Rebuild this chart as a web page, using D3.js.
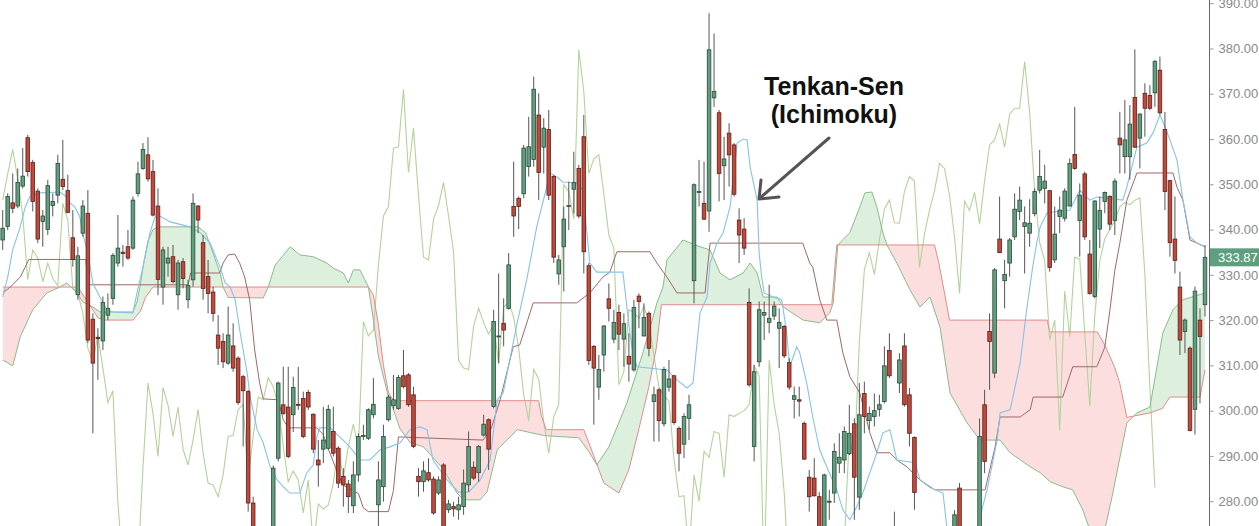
<!DOCTYPE html>
<html><head><meta charset="utf-8">
<script src="https://cdn.jsdelivr.net/npm/d3@7"></script>
<style>html,body{margin:0;padding:0;background:#fff;overflow:hidden}</style>
</head><body><svg id="c" width="1259" height="526"></svg>
<script>
// ---- candle data (bar index 0..240) ----
const open=[337.7,340.7,345.9,345.2,349.6,360.3,354.8,348.5,341.8,340.0,
345.3,347.6,351.1,348.6,338.2,325.6,339.2,343.6,320.2,316.2,
315.4,321.1,324.8,332.6,335.0,336.2,335.9,348.0,353.5,356.5,
352.8,345.2,327.3,332.6,334.0,325.6,332.9,324.5,328.9,345.2,
337.1,329.6,326.2,316.7,315.3,310.5,314.3,311.6,307.5,304.2,
279.6,265.0,250.0,258.0,266.0,289.5,301.3,300.8,299.1,301.4,
302.7,304.0,299.2,289.1,291.5,291.7,295.4,291.7,285.5,283.8,
279.0,285.8,294.3,293.9,299.1,279.2,283.2,298.0,301.1,300.5,
307.7,307.9,303.5,285.5,284.3,286.3,284.9,281.8,288.0,278.1,
278.8,278.1,278.8,283.6,287.5,286.3,294.6,298.0,300.9,316.3,
319.3,322.6,345.1,346.9,347.9,353.9,355.5,365.3,358.2,362.1,
351.7,330.2,336.2,345.1,348.9,353.5,360.5,332.0,314.2,305.2,
312.3,324.7,315.8,321.7,315.8,312.0,309.0,325.3,316.5,321.5,
302.0,304.6,297.1,305.2,307.7,296.1,292.6,298.3,328.7,348.2,
345.8,344.1,369.1,365.8,354.1,361.3,358.7,342.1,340.1,323.9,
292.1,310.8,321.1,319.5,320.9,318.2,318.6,310.6,302.5,302.4,
297.2,285.3,285.1,281.0,268.0,279.9,281.8,288.4,289.1,290.5,
297.1,280.9,303.8,297.8,298.7,300.3,302.0,313.3,272.0,306.1,
314.3,303.5,294.1,272.0,262.0,256.0,259.0,264.0,261.0,266.0,
268.0,282.9,268.0,262.0,266.0,272.0,301.3,317.5,308.3,337.9,
328.7,332.6,338.4,344.0,340.7,339.2,343.5,348.7,349.1,348.6,
333.3,342.9,342.5,345.2,356.6,342.0,352.3,334.6,325.2,340.1,
346.2,347.3,342.0,360.2,356.1,356.1,369.2,360.2,370.1,369.6,
370.2,375.2,362.1,350.8,337.9,327.3,317.5,313.8,300.3,320.0,
323.4];
const high=[344.3,348.0,352.4,353.5,358.0,360.9,355.4,349.1,344.3,351.0,
348.0,356.5,359.8,352.1,344.3,336.2,346.5,348.7,321.5,318.2,
325.2,325.9,334.8,343.2,336.6,339.9,347.3,355.0,359.1,360.4,
355.4,349.1,336.2,336.2,336.6,333.3,333.7,328.9,348.0,345.4,
338.8,333.3,327.4,321.1,317.1,323.0,319.3,312.0,307.9,304.6,
281.0,268.0,262.0,270.0,287.9,306.4,309.7,309.7,307.5,309.7,
304.2,304.6,299.4,293.5,300.8,301.3,300.9,292.1,287.3,284.7,
288.8,295.0,296.9,300.5,307.2,288.8,296.9,303.5,307.9,307.9,
313.4,308.3,305.3,287.3,288.8,289.5,285.5,285.5,288.4,280.3,
279.9,281.0,287.0,295.4,288.8,292.4,299.1,298.3,322.3,330.3,
324.8,334.8,355.0,347.3,358.7,364.9,373.8,370.1,364.6,366.4,
352.1,334.4,345.1,350.6,357.2,354.3,365.3,332.6,314.5,312.3,
318.9,328.1,322.3,323.4,321.5,317.1,324.5,325.9,323.7,321.9,
305.3,305.0,309.7,311.2,307.9,296.5,299.4,303.5,350.2,355.4,
355.0,387.8,383.3,366.4,360.5,363.5,359.1,344.7,342.5,327.0,
310.1,324.1,324.1,327.8,324.1,322.6,318.9,311.6,305.3,305.3,
297.6,286.9,289.5,282.0,286.1,282.5,292.8,295.0,296.5,301.3,
298.3,306.1,306.4,300.9,303.8,303.5,314.2,317.1,277.7,312.7,
317.1,305.0,294.3,274.0,266.0,262.0,268.0,270.0,268.0,272.0,
278.0,284.0,272.0,270.0,274.0,298.3,304.6,321.5,331.5,347.3,
333.3,338.1,348.0,349.5,345.1,346.7,349.1,357.6,354.3,348.7,
345.1,347.3,349.1,355.7,367.1,350.2,352.8,337.7,346.5,347.3,
348.4,347.6,351.3,366.0,368.6,367.5,379.8,365.7,372.3,371.9,
377.5,378.2,366.0,351.0,347.3,330.7,320.4,314.2,327.4,322.6,
336.6];
const low=[335.5,339.9,343.6,344.7,349.1,351.7,344.0,337.0,336.2,338.8,
342.9,345.8,348.7,343.6,331.8,324.5,338.4,314.9,295.0,306.8,
313.4,320.0,323.4,331.8,331.8,333.3,335.5,347.3,353.2,350.6,
342.9,325.5,323.4,329.6,328.1,322.3,327.0,322.6,327.4,339.2,
324.5,321.5,319.7,310.1,309.4,310.1,308.6,301.3,292.1,277.7,
262.0,244.0,247.0,255.0,263.0,288.8,299.1,289.5,295.3,300.2,
293.9,300.2,290.6,283.2,288.4,291.3,289.9,282.9,278.8,277.4,
277.4,284.3,293.5,293.5,298.3,273.0,279.9,297.6,300.2,300.2,
304.9,300.9,291.7,281.0,282.1,284.3,277.0,281.4,266.0,277.4,
276.6,275.9,277.0,282.1,284.7,284.3,294.3,286.9,300.5,310.5,
314.2,322.3,338.4,340.1,346.9,351.7,353.9,346.5,352.4,346.5,
332.6,327.8,326.3,339.9,343.6,342.5,330.3,310.1,296.9,302.4,
308.6,319.7,314.9,313.4,309.7,306.4,308.6,318.2,316.4,312.0,
293.2,293.2,296.5,304.2,296.9,286.6,289.5,293.5,323.7,345.1,
342.1,339.5,367.1,346.2,346.5,349.5,347.3,332.6,334.4,305.3,
288.8,309.7,315.6,317.1,320.0,309.4,311.6,304.6,298.3,298.7,
289.1,277.7,281.0,262.0,265.0,275.9,279.6,286.2,286.2,290.2,
275.9,278.1,295.0,295.8,296.5,298.7,301.6,307.2,255.0,303.9,
300.9,292.1,278.1,258.0,250.0,248.0,255.0,258.0,256.0,262.0,
266.0,266.0,258.0,256.0,262.0,270.0,286.2,304.6,307.2,334.8,
322.6,329.6,337.7,342.1,330.3,336.2,342.9,348.0,345.8,330.7,
332.6,339.2,341.8,345.1,353.2,334.0,337.7,325.6,324.8,335.9,
343.6,339.9,338.8,352.4,352.4,351.0,358.0,353.5,360.5,366.4,
367.1,365.3,344.3,334.0,330.3,312.3,312.7,295.4,294.7,301.6,
320.8];
const close=[340.3,347.3,344.7,350.4,351.8,352.8,346.2,337.9,343.0,349.7,
346.2,354.6,349.5,343.8,333.4,334.2,345.2,315.6,310.5,315.9,
323.9,322.6,334.3,335.9,334.7,333.7,346.5,352.3,357.7,351.2,
343.2,329.0,335.5,333.7,328.5,332.6,329.2,327.6,345.8,342.1,
327.0,325.9,321.5,313.8,310.8,316.7,309.4,301.8,304.4,279.6,
265.0,250.0,258.0,266.0,287.3,306.1,299.4,289.9,305.1,301.2,
294.3,300.8,291.5,288.0,293.5,300.3,290.6,284.0,283.6,281.0,
285.8,294.3,294.5,300.2,301.4,284.7,294.3,303.0,302.4,307.3,
305.3,301.3,292.1,284.3,286.7,284.7,277.4,284.7,270.0,279.4,
278.3,279.2,284.0,292.1,285.1,292.1,297.0,291.5,319.7,316.5,
317.8,332.2,343.0,345.1,358.0,358.3,371.0,352.6,362.4,347.6,
333.9,333.3,342.3,345.3,350.4,343.0,335.1,311.1,309.4,309.1,
318.7,322.6,319.5,316.9,319.2,310.3,322.8,324.1,320.6,313.8,
303.5,297.8,309.1,307.0,297.4,290.6,298.7,301.3,349.9,348.4,
342.3,379.7,370.5,352.4,355.6,356.5,347.8,338.8,335.9,305.7,
308.6,322.3,321.7,320.4,323.1,319.5,312.1,305.2,303.3,302.1,
289.3,281.0,281.2,268.0,285.8,280.0,291.0,289.7,295.4,295.0,
285.3,299.1,298.7,299.4,300.0,301.3,309.9,307.7,262.0,311.2,
301.3,295.0,281.9,262.0,256.0,259.0,264.0,261.0,266.0,268.0,
277.0,268.0,262.0,266.0,271.0,294.3,288.8,315.3,331.1,334.9,
330.1,337.7,344.5,346.5,341.5,341.4,348.4,351.7,350.7,331.6,
339.0,344.3,348.5,354.6,353.5,347.6,338.4,325.9,346.3,344.2,
348.2,341.2,350.7,358.7,359.8,363.3,358.2,365.5,366.8,366.8,
377.1,365.8,348.4,337.1,333.2,315.6,320.0,295.6,326.4,316.4,
333.87];
// closes of bars hidden behind the price scale (only visible through the lagging span)
const hiddenCloses=[333.5,317.0,301.0,321.0,333.0,338.0,340.0,342.0,345.0,346.0,345.5,346.5,347.0,330.0,305.0,283.0];
const chikouShift=26;

// ---- indicator lines: [bar index, price] ----
const tenkan=[[0,325.1],[1,329.5],[2,335.5],[3.5,340.6],[4.5,345.0],[5.4,347.2],[7.4,348.1],[11.4,348.3],[12.8,347.2],[13.4,345.9],[14.4,345.0],[15.4,342.8],[15.8,339.9],[17,334.8],[18,328.2],[19.4,325.1],[20.8,322.3],[22,321.8],[26,321.6],[26.8,326.0],[28,331.7],[29.4,339.3],[30.4,342.8],[31.4,343.0],[33.4,341.7],[37.4,340.6],[39.4,339.3],[41.4,337.0],[43.4,331.7],[44.4,328.2],[45.4,327.3],[46.4,324.5],[47.4,317.2],[48.8,308.3],[49.4,303.0],[50.8,295.8],[52,292.9],[53.4,287.6],[54.8,284.7],[56,283.2],[57.3,281.8],[59.3,281.8],[60.7,286.3],[62,288],[62.7,294.2],[63.3,296.2],[65.3,296.2],[67.3,294.2],[69.3,292.0],[71.3,289.1],[73.3,289.1],[75.3,291.3],[77.3,292.0],[79.3,292.9],[81.3,295.8],[83.3,296.4],[84.7,295.8],[85.9,289.1],[87.3,286.9],[88.7,284.7],[91,282],[93,282],[95.3,284.7],[97.3,289.1],[98.7,302.4],[99.9,303.9],[102.7,319.4],[104.6,328.9],[106.6,340.6],[108.6,349.4],[109.2,352.5],[110.6,351.6],[111.8,350.5],[114.6,350.3],[115.8,348.7],[117.2,332.6],[118.6,330.6],[123.8,330.6],[124.6,322.9],[125.2,317.2],[125.8,312.8],[126.6,309.7],[132.6,309.0],[134.6,306.8],[136.6,305.0],[137.8,306.1],[139.2,321.6],[140.6,325.1],[141.2,332.6],[142.6,337.0],[143.8,339.3],[145.2,345.0],[146.6,359.1],[147.8,360.0],[148.6,359.8],[149.2,353.8],[150.6,346.5],[151,334.8],[151.5,329.5],[152,326.0],[153.8,325.1],[155.5,324.5],[156.5,317.2],[157.1,309.7],[158.5,314.1],[159.1,312.8],[160.5,306.1],[161.7,298.6],[163.1,291.3],[164.5,287.6],[166.5,282.5],[167.7,278.1],[169.1,275.9],[170.5,278.8],[171.7,281.8],[173.1,286.3],[174.5,290.7],[175.7,295.1],[177.1,295.8],[178.5,289.1],[182.1,288.5],[183.1,284.7],[185.1,283.0],[187.7,281.8],[188.7,272],[194,272],[196.5,282.5],[198.5,293.5],[199.1,299.5],[201.1,300.2],[203.1,310.5],[204.4,322.3],[205.6,331.7],[206.4,337.0],[207.1,340.6],[208.5,343.7],[213,344.3],[215,348.7],[217,346.5],[218.4,347.2],[223.6,346.5],[224.4,349.4],[226.4,358.2],[228.4,359.1],[229.6,361.3],[231,365.3],[232,362.7],[233,359.8],[234.4,355.4],[235.6,346.5],[237,338.4],[238.4,337.0],[240,336.2]];
const kijun=[[0,326.0],[1.5,327.3],[3.5,329.5],[4.5,331.7],[5.2,333.4],[16.6,333.4],[17,327.8],[37,327.8],[37.5,330.4],[43.3,330.4],[44,332.6],[45,334.4],[46.3,334.6],[47.3,332.6],[48.3,329.5],[49.3,324.5],[50.3,313.4],[51.3,306],[52,302.6],[55,302.4],[56,298],[57,296.2],[62.7,296.2],[64,294.7],[65,291.5],[66,288.7],[67,285.7],[68,283.5],[71,281.7],[72,278.5],[73,277.7],[77,277.7],[78,282.4],[79,294.2],[95.9,293.5],[97.5,296],[99.3,302.4],[101.9,314.1],[103.2,314.5],[105.9,323.8],[114.6,323.8],[117.2,326.0],[119.8,329.5],[121.2,330.6],[122.6,335.1],[129.2,335.1],[130.6,332.6],[132.6,329.5],[134.6,326.0],[140.2,326.0],[141.2,337.0],[159.7,337.0],[161.1,332.6],[161.7,331.7],[163.1,324.5],[164.5,320.0],[166.5,320.0],[167.7,312.8],[169.1,307.5],[171.1,303.9],[173.1,295.1],[174.5,290.7],[177.1,290.7],[178.5,289.1],[180.5,287.6],[183.1,284.7],[185.1,283.2],[186.1,282.5],[196.1,282.5],[198.1,292.0],[199.1,298.6],[203.1,298.6],[205.1,300.2],[205.7,303.0],[211.6,303.0],[213.6,309.7],[218.4,309.7],[220,314],[221,322],[222,331],[223,337],[224.4,346.5],[226.4,352.5],[233.6,352.5],[234.4,349.4],[235.6,346.5],[237,337.7],[240,336.2]];
const senkouA=[[0,311.2],[2,309.9],[3.5,316.3],[6,322.3],[8.8,326.0],[11.4,327.3],[12.8,328.2],[14.8,326.0],[16,324.0],[18,322.9],[19.4,321.8],[26,321.8],[26.8,324],[27.5,328],[28.2,333],[29,337.5],[30,340],[31,340.6],[39,340.6],[40.5,339.3],[42,334.8],[43.5,330],[44,327.3],[45,325],[52,324.9],[53,327.3],[54.4,332.2],[57.4,336.2],[59.3,334.4],[62,334.0],[64.7,332.6],[66,331.5],[68,330.4],[69,328.2],[70,331.1],[71.3,331.1],[72.3,328.9],[73,327.3],[74,320],[75,312],[77,303],[78,300.2],[79.3,296],[81.3,293],[84,292],[86,289.5],[88,287],[90.7,281.8],[92,280.3],[95.3,280.3],[96.7,282.1],[98.7,291.3],[101.3,294.2],[102.7,295.8],[108,294.5],[115,294],[117,291],[118.6,288],[121,292],[124.6,301.7],[127.8,312.8],[130.6,323.8],[131.8,327.3],[132.6,333.3],[135.8,337.7],[139.2,336.2],[141.2,335.5],[143.2,330.4],[145.2,328.9],[147.8,330.4],[149.2,332.6],[150.6,330.4],[151.8,325.1],[154.6,325.1],[155.8,322.9],[159.8,320.0],[163.1,319.4],[165.1,321.6],[165.8,323.8],[166.7,336.6],[169.1,339.3],[171.1,345.0],[172.1,348.1],[173.5,348.3],[174.5,345.0],[175.7,339.3],[176.5,336.6],[178.5,332.6],[181.1,326.7],[183.1,322.9],[185.1,325.1],[187.1,318.5],[189.1,303.9],[192.5,297.3],[195.1,293.5],[199.1,293.5],[201.1,290.7],[205.1,287.6],[207.1,286.3],[209.1,284.3],[211.6,283.2],[213.6,282.5],[215.6,278.1],[217,273.7],[219,271.5],[220,273.7],[221.6,281.8],[224.4,297.3],[226.4,299.5],[229,300.8],[231.6,317.2],[233.6,322.3],[235.6,324.5],[240,326.0]];
const senkouB=[[0,327.3],[15,327.3],[17,324],[19,320.5],[20.5,320],[26,320],[27.5,322],[28.5,325],[30,327.3],[73,327.3],[74,325.5],[75,319],[76,310],[77,304],[78,302.2],[107,302.2],[107.5,299],[108.5,295.8],[116,295.8],[118,290],[120,284],[123,281.8],[125,287],[127,296],[129,305.3],[130.5,314],[131.5,323.4],[165.5,323.4],[166.5,336.6],[186,336.6],[186.8,333],[188,326],[189,320],[208.5,320],[209,317.4],[218.5,317.4],[220,314.5],[222,309.5],[223,306],[224.4,298.5],[229,299.5],[231.5,300.5],[233,303],[239,303],[240,309]];

const priceTicks=[280,290,300,310,320,330,340,350,360,370,380,390];
const lastPrice=333.87;

// ---- layout ----
const W=1259,H=526,plotRight=1209;
const x=d3.scaleLinear().domain([0,240]).range([2.7,1205]);
const y=d3.scaleLinear().domain([280,390]).range([501.2,3.2]);
const svg=d3.select('#c');
svg.append('rect').attr('width',W).attr('height',H).attr('fill','#fff');
const defs=svg.append('defs');
defs.append('clipPath').attr('id','plot').append('rect').attr('x',0).attr('y',0).attr('width',plotRight).attr('height',H);
const areaTop=d3.area().x(d=>x(d[0])).y0(0).y1(d=>y(d[1]));
const areaBot=d3.area().x(d=>x(d[0])).y0(H).y1(d=>y(d[1]));
defs.append('clipPath').attr('id','aboveB').append('path').attr('d',areaTop(senkouB));
defs.append('clipPath').attr('id','aboveA').append('path').attr('d',areaTop(senkouA));

const g=svg.append('g').attr('clip-path','url(#plot)');
// cloud
g.append('g').attr('clip-path','url(#aboveB)').append('path').attr('d',areaBot(senkouA)).attr('fill','#ddf0de');
g.append('g').attr('clip-path','url(#aboveA)').append('path').attr('d',areaBot(senkouB)).attr('fill','#fcdede');

const line=d3.line().x(d=>x(d[0])).y(d=>y(d[1]));
const chikou=close.slice(chikouShift).concat(hiddenCloses).map((v,j)=>[j,v]);
g.append('path').attr('d',line(chikou)).attr('fill','none').attr('stroke','#b3d39b').attr('stroke-width',1.1);
g.append('path').attr('d',line(senkouA)).attr('fill','none').attr('stroke','#8cba8c').attr('stroke-width',1);
g.append('path').attr('d',line(senkouB)).attr('fill','none').attr('stroke','#e08c8c').attr('stroke-width',1);
g.append('path').attr('d',line(kijun)).attr('fill','none').attr('stroke','#a06868').attr('stroke-width',1);
g.append('path').attr('d',line(tenkan)).attr('fill','none').attr('stroke','#86c3e8').attr('stroke-width',1.1);

// candles
const idx=d3.range(open.length);
const cg=g.append('g');
cg.selectAll('line.w').data(idx).join('line').attr('class','w')
  .attr('x1',i=>x(i)).attr('x2',i=>x(i)).attr('y1',i=>y(high[i])).attr('y2',i=>y(low[i]))
  .attr('stroke','#555').attr('stroke-width',1);
cg.selectAll('rect.b').data(idx).join('rect').attr('class','b')
  .attr('x',i=>x(i)-1.8).attr('width',3.6)
  .attr('y',i=>y(Math.max(open[i],close[i])))
  .attr('height',i=>Math.max(1,Math.abs(y(open[i])-y(close[i]))))
  .attr('fill',i=>close[i]>=open[i]?'#5f9e7e':'#c2483c')
  .attr('stroke',i=>close[i]>=open[i]?'#2c4a38':'#5a2018').attr('stroke-width',0.8);

// price scale
svg.append('line').attr('x1',plotRight+0.5).attr('x2',plotRight+0.5).attr('y1',0).attr('y2',H).attr('stroke','#666');
const ax=svg.append('g').attr('transform',`translate(${plotRight+0.5},0)`)
  .call(d3.axisRight(y).tickValues(priceTicks).tickFormat(d3.format('.2f')).tickSize(4).tickPadding(5));
ax.select('.domain').remove();
ax.selectAll('line').attr('stroke','#999');
ax.selectAll('text').attr('fill','#8a8a8a').style('font-family','"Liberation Sans", Arial, sans-serif').style('font-size','13px');

const ly=y(lastPrice);
svg.append('rect').attr('x',plotRight+1).attr('y',ly-9).attr('width',W-plotRight).attr('height',18).attr('fill','#5d9f7f');
svg.append('text').attr('x',plotRight+9).attr('y',ly+4.5).text(d3.format('.2f')(lastPrice))
  .attr('fill','#fff').style('font-family','"Liberation Sans", Arial, sans-serif').style('font-size','13px');

// annotation
const ann=svg.append('g').style('font-family','"Liberation Sans", Arial, sans-serif').style('font-weight','bold').style('font-size','25px').attr('fill','#111').attr('text-anchor','middle');
ann.append('text').attr('x',834).attr('y',95).text('Tenkan-Sen');
ann.append('text').attr('x',834).attr('y',123).text('(Ichimoku)');
svg.append('line').attr('x1',829).attr('y1',138).attr('x2',760).attr('y2',198).attr('stroke','#555').attr('stroke-width',3).attr('stroke-linecap','round');
svg.append('polyline').attr('points','761,180 759,199 779,197').attr('fill','none').attr('stroke','#555').attr('stroke-width',3).attr('stroke-linecap','round').attr('stroke-linejoin','round');
</script></body></html>
